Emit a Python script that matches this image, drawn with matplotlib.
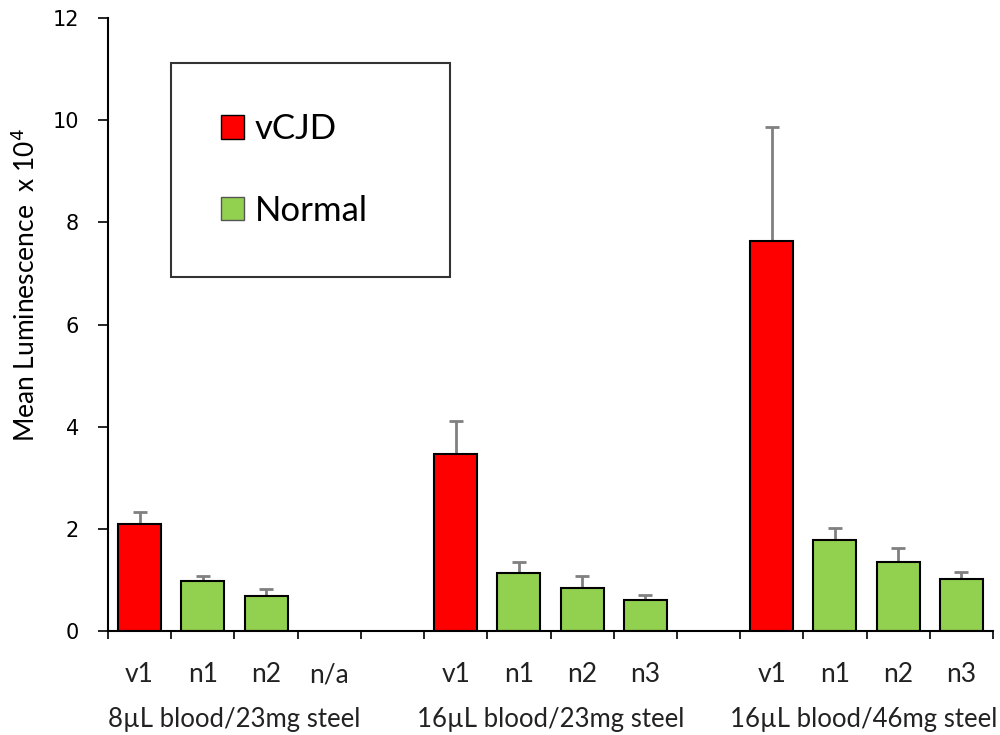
import matplotlib.pyplot as plt
import numpy as np
from matplotlib.patches import Patch
from matplotlib.transforms import blended_transform_factory

# sample labels per slot, blank slots separate the three conditions
samples = ['v1', 'n1', 'n2', 'n/a', '',
           'v1', 'n1', 'n2', 'n3', '',
           'v1', 'n1', 'n2', 'n3']
means = [2.09, 0.98, 0.68, np.nan, np.nan,
         3.46, 1.14, 0.85, 0.60, np.nan,
         7.63, 1.78, 1.35, 1.02]
errs = [0.23, 0.10, 0.15, np.nan, np.nan,
        0.65, 0.22, 0.23, 0.10, np.nan,
        2.24, 0.23, 0.27, 0.14]
groups = ['8µL blood/23mg steel', '16µL blood/23mg steel', '16µL blood/46mg steel']
group_centres = [1.5, 6.5, 11.45]

red = '#ff0000'
green = '#92d050'

plt.rcParams['font.family'] = ['Lato', 'DejaVu Sans']

fig = plt.figure(figsize=(10, 7.35), dpi=100)
ax = fig.add_axes([0.108, 0.1415, 0.885, 0.834])

x = np.arange(len(samples))
means = np.asarray(means)
errs = np.asarray(errs)
colours = [red if s.startswith('v') else green for s in samples]

ok = ~np.isnan(means)
ax.errorbar(x[ok], means[ok], yerr=[np.zeros(ok.sum()), errs[ok]], fmt='none',
            ecolor='#808080', elinewidth=2, capsize=5, capthick=2, zorder=1)
ax.bar(x[ok], means[ok], width=0.68, color=np.array(colours)[ok],
       edgecolor='black', linewidth=1.5, zorder=2)

ax.set_xlim(-0.5, len(samples) - 0.5)
ax.set_ylim(0, 12)
ax.set_yticks(np.arange(0, 13, 2))
ax.tick_params(axis='y', labelsize=15, length=7, width=1.2, pad=14)
for lab in ax.get_yticklabels():
    lab.set_family('DejaVu Sans')

# ticks sit on slot boundaries, labels go in the middle of each slot
ax.set_xticks(np.arange(-0.5, len(samples), 1.0))
ax.set_xticklabels([])
ax.tick_params(axis='x', length=6, width=1.2)

trans = blended_transform_factory(ax.transData, ax.transAxes)
for xi, s in zip(x, samples):
    if s:
        ax.text(xi, -0.071, s, transform=trans, ha='center', va='center',
                fontsize=19, color='#222222')
for gx, g in zip(group_centres, groups):
    ax.text(gx, -0.144, g, transform=trans, ha='center', va='center',
            fontsize=18.5, color='#222222')

for side in ['top', 'right']:
    ax.spines[side].set_visible(False)
for side in ['left', 'bottom']:
    ax.spines[side].set_linewidth(1.5)

ax.set_ylabel('Mean Luminescence  x 10$^4$', fontsize=19)
ax.yaxis.set_label_coords(-0.077, 0.565)

handles = [Patch(facecolor=red, edgecolor='black', label='vCJD'),
           Patch(facecolor=green, edgecolor='#555555', label='Normal')]
leg = ax.legend(handles=handles, loc='upper left',
                bbox_to_anchor=(0.071, 0.5, 0.315, 0.4266), mode='expand',
                fontsize=25, frameon=True, fancybox=False, edgecolor='black',
                borderpad=1.45, labelspacing=1.42, handlelength=0.66,
                handleheight=0.66, handletextpad=0.3, borderaxespad=0)
leg.get_frame().set_linewidth(1.5)

fig.savefig('out.png', dpi=100)
